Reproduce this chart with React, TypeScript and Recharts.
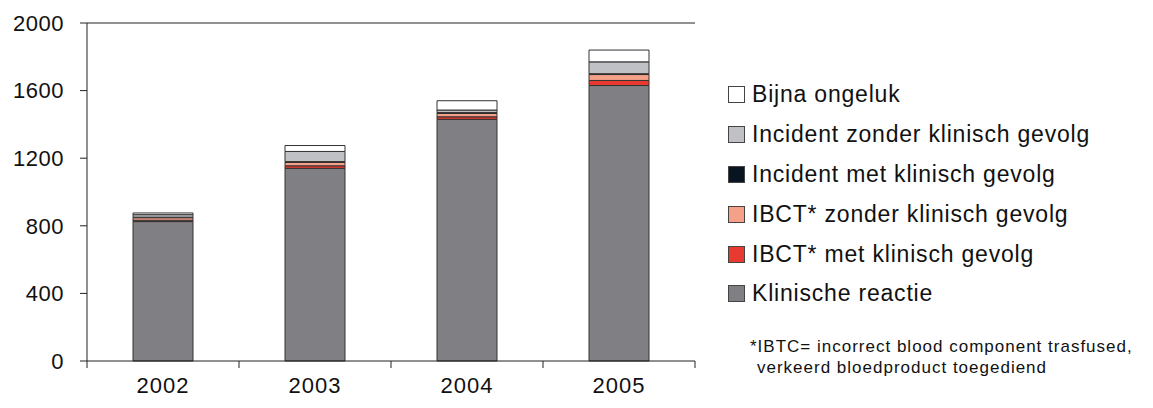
import React from "react";
import { Bar, BarChart, ReferenceLine, XAxis, YAxis } from "recharts";

const years = ["2002", "2003", "2004", "2005"];
const klinischeReactie = [825, 1140, 1430, 1630];
const ibctMet = [8, 15, 15, 30];
const ibctZonder = [15, 20, 20, 35];
const incidentMet = [3, 5, 5, 5];
const incidentZonder = [15, 60, 15, 70];
const bijnaOngeluk = [10, 35, 55, 70];
const yTicks = [0, 400, 800, 1200, 1600, 2000];

const series = [
  { key: "klinisch", name: "Klinische reactie", values: klinischeReactie, color: "#808084" },
  { key: "ibctMet", name: "IBCT* met klinisch gevolg", values: ibctMet, color: "#e83a30" },
  { key: "ibctZonder", name: "IBCT* zonder klinisch gevolg", values: ibctZonder, color: "#f5a089" },
  { key: "incMet", name: "Incident met klinisch gevolg", values: incidentMet, color: "#08141f" },
  { key: "incZonder", name: "Incident zonder klinisch gevolg", values: incidentZonder, color: "#c0c1c5" },
  { key: "bijna", name: "Bijna ongeluk", values: bijnaOngeluk, color: "#ffffff" },
];

const data = years.map((year, i) => {
  const row: Record<string, string | number> = { year };
  series.forEach((s) => {
    row[s.key] = s.values[i];
  });
  return row;
});

const FONT = "'Liberation Sans', Arial, sans-serif";

// category label plus tick marks on the band boundaries
function YearTick(props: any) {
  const { x, y, payload, index } = props;
  const half = payload.offset ?? 76;
  return (
    <g>
      <line x1={x - half} x2={x - half} y1={y - 8} y2={y - 1} stroke="#222" />
      {index === years.length - 1 && (
        <line x1={x + half} x2={x + half} y1={y - 8} y2={y - 1} stroke="#222" />
      )}
      <text
        x={x}
        y={y + 24}
        textAnchor="middle"
        fontSize={22}
        letterSpacing={1}
        fill="#111"
        fontFamily={FONT}
      >
        {payload.value}
      </text>
    </g>
  );
}

function LegendList() {
  return (
    <div
      style={{
        position: "absolute",
        left: 728,
        top: 75,
        fontFamily: FONT,
        fontSize: 23,
        letterSpacing: 0.8,
        color: "#111",
      }}
    >
      {[...series].reverse().map((s) => (
        <div key={s.key} style={{ display: "flex", alignItems: "center", height: 39.8 }}>
          <span
            style={{
              width: 15,
              height: 15,
              background: s.color,
              border: "1px solid #444",
              marginRight: 7,
              display: "inline-block",
              flexShrink: 0,
            }}
          />
          {s.name}
        </div>
      ))}
    </div>
  );
}

export default function App() {
  return (
    <div style={{ position: "relative", margin: -8, width: 1153, height: 408, background: "#fff" }}>
      <BarChart
        width={1153}
        height={408}
        data={data}
        margin={{ top: 23, right: 458, bottom: 0, left: 0 }}
        barSize={60}
      >
        <XAxis
          dataKey="year"
          axisLine={{ stroke: "#222" }}
          tickLine={false}
          tick={<YearTick />}
          height={47}
        />
        <YAxis
          domain={[0, 2000]}
          ticks={yTicks}
          width={87}
          axisLine={{ stroke: "#222" }}
          tickLine={{ stroke: "#222" }}
          tickSize={7}
          tickMargin={16}
          tick={{ fontSize: 22, letterSpacing: 0.5, fill: "#111", fontFamily: FONT }}
        />
        <ReferenceLine y={2000} stroke="#222" />
        {series.map((s) => (
          <Bar
            key={s.key}
            dataKey={s.key}
            name={s.name}
            stackId="a"
            fill={s.color}
            stroke="#333"
            strokeWidth={1}
            isAnimationActive={false}
          />
        ))}
      </BarChart>
      <LegendList />
      <div
        style={{
          position: "absolute",
          left: 750,
          top: 336,
          fontFamily: FONT,
          fontSize: 17,
          letterSpacing: 1,
          lineHeight: "21px",
          whiteSpace: "nowrap",
          color: "#111",
        }}
      >
        <div>*IBTC= incorrect blood component trasfused,</div>
        <div style={{ paddingLeft: 7 }}>verkeerd bloedproduct toegediend</div>
      </div>
    </div>
  );
}
